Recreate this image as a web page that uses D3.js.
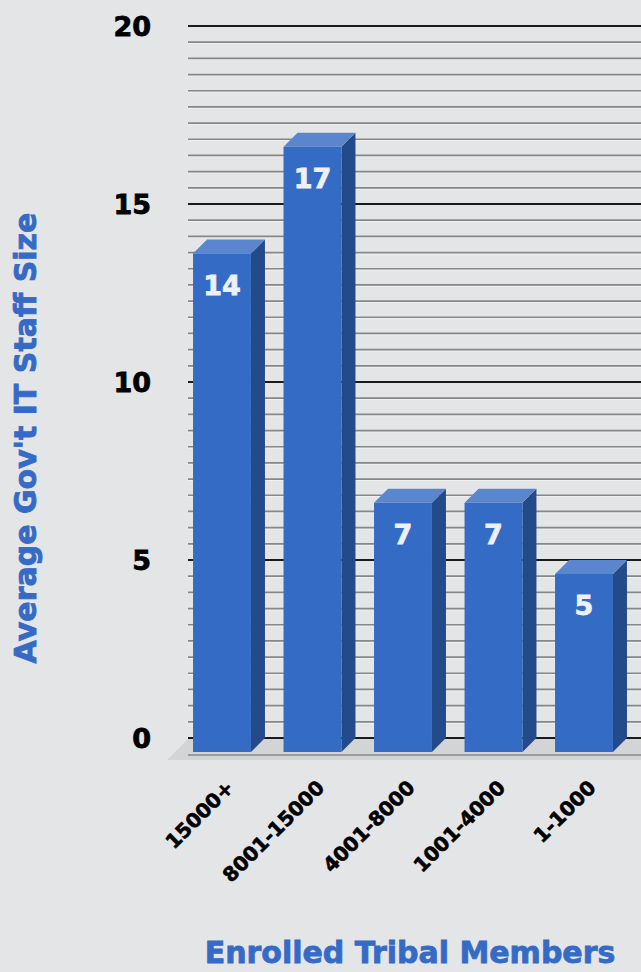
<!DOCTYPE html>
<html>
<head>
<meta charset="utf-8">
<script src="https://cdn.jsdelivr.net/npm/d3@7"></script>
<style>
  html, body { margin: 0; padding: 0; background: #e4e5e7; }
  svg { display: block; font-family: "DejaVu Sans", Verdana, sans-serif; }
</style>
</head>
<body>
<svg id="chart" width="641" height="972"></svg>
<script>
const categories = ["15000+", "8001-15000", "4001-8000", "1001-4000", "1-1000"];
const values = [14, 17, 7, 7, 5];
const yTicks = [0, 5, 10, 15, 20];
const minorPerMajor = 11;

const W = 641, H = 972;
const depthX = 14, depthY = 14;

const svg = d3.select("#chart");

const x = d3.scaleBand()
  .domain(categories)
  .range([176.75, 629.25])
  .paddingInner(0.36)
  .paddingOuter(0.18);

// y scale lives on the back wall
const y = d3.scaleLinear().domain([0, 20]).range([738, 26]);

const gridLayer = svg.append("g").attr("class", "grid");
const floorLayer = svg.append("g").attr("class", "floor");
const barLayer = svg.append("g").attr("class", "bars");
const textLayer = svg.append("g").attr("class", "labels");

// minor gridlines
const minorVals = [];
for (let i = 0; i < yTicks.length - 1; i++) {
  for (let k = 1; k < minorPerMajor; k++) {
    minorVals.push(yTicks[i] + (yTicks[i + 1] - yTicks[i]) * k / minorPerMajor);
  }
}

gridLayer.selectAll("line.minor-hi")
  .data(minorVals)
  .join("line")
  .attr("x1", 188).attr("x2", W)
  .attr("y1", (d) => y(d) + 1.4).attr("y2", (d) => y(d) + 1.4)
  .attr("stroke", "#f1f1f2")
  .attr("stroke-width", 1);

gridLayer.selectAll("line.minor")
  .data(minorVals)
  .join("line")
  .attr("x1", 188).attr("x2", W)
  .attr("y1", (d) => y(d)).attr("y2", (d) => y(d))
  .attr("stroke", "#878787")
  .attr("stroke-width", 1.7);

gridLayer.selectAll("line.major")
  .data(yTicks)
  .join("line")
  .attr("x1", 188).attr("x2", W)
  .attr("y1", (d) => y(d)).attr("y2", (d) => y(d))
  .attr("stroke", "#1a1a1a")
  .attr("stroke-width", 1.8);

// floor
const y0 = y(0);
floorLayer.append("polygon")
  .attr("points", [[188, y0 + 1], [W, y0 + 1], [W, y0 + 22], [167, y0 + 22]].join(" "))
  .attr("fill", "#d3d4d6");

floorLayer.append("line")
  .attr("x1", 188).attr("x2", W)
  .attr("y1", y0 + 17).attr("y2", y0 + 17)
  .attr("stroke", "#8a8a8a")
  .attr("stroke-width", 1.5);

// bars
const bars = barLayer.selectAll("g.bar")
  .data(categories.map((c, i) => ({ cat: c, v: values[i] })))
  .join("g")
  .attr("class", "bar");

bars.append("polygon")
  .attr("fill", "#234a89")
  .attr("points", (d) => {
    const x1 = x(d.cat) + x.bandwidth();
    const fy = y(d.v) + depthY;
    return [[x1, fy], [x1 + depthX, fy - depthY], [x1 + depthX, y0], [x1, y0 + depthY]].join(" ");
  });

bars.append("polygon")
  .attr("fill", "#5986cd")
  .attr("points", (d) => {
    const x0 = x(d.cat), x1 = x0 + x.bandwidth();
    const fy = y(d.v) + depthY;
    return [[x0, fy], [x0 + depthX, fy - depthY], [x1 + depthX, fy - depthY], [x1, fy]].join(" ");
  });

bars.append("rect")
  .attr("fill", "#336bc5")
  .attr("x", (d) => x(d.cat))
  .attr("y", (d) => y(d.v) + depthY)
  .attr("width", x.bandwidth())
  .attr("height", (d) => y0 - y(d.v));

bars.append("text")
  .attr("x", (d) => x(d.cat) + x.bandwidth() / 2)
  .attr("y", (d) => y(d.v) + depthY + 41)
  .attr("text-anchor", "middle")
  .attr("fill", "#eef0f5")
  .attr("stroke", "#eef0f5")
  .attr("stroke-width", 0.8)
  .attr("font-size", "27px")
  .attr("font-weight", "bold")
  .text((d) => d.v);

// y tick labels
textLayer.selectAll("text.ytick")
  .data(yTicks)
  .join("text")
  .attr("class", "ytick")
  .attr("x", 151)
  .attr("y", (d) => y(d))
  .attr("dy", "0.36em")
  .attr("text-anchor", "end")
  .attr("fill", "#000")
  .attr("stroke", "#000")
  .attr("stroke-width", 0.8)
  .attr("font-size", "27px")
  .attr("font-weight", "bold")
  .text((d) => d);

// x tick labels
textLayer.selectAll("text.xtick")
  .data(categories)
  .join("text")
  .attr("class", "xtick")
  .attr("transform", (d) => `translate(${x(d) + x.bandwidth() / 2 + 13}, 789) rotate(-45)`)
  .attr("text-anchor", "end")
  .attr("fill", "#000")
  .attr("stroke", "#000")
  .attr("stroke-width", 0.6)
  .attr("font-size", "20px")
  .attr("font-weight", "bold")
  .text((d) => d);

// axis titles
textLayer.append("text")
  .attr("transform", "translate(36, 438) rotate(-90)")
  .attr("text-anchor", "middle")
  .attr("fill", "#356bc6")
  .attr("stroke", "#356bc6")
  .attr("stroke-width", 0.8)
  .attr("font-size", "30px")
  .attr("font-weight", "bold")
  .text("Average Gov't IT Staff Size");

textLayer.append("text")
  .attr("x", 410)
  .attr("y", 963)
  .attr("text-anchor", "middle")
  .attr("fill", "#356bc6")
  .attr("stroke", "#356bc6")
  .attr("stroke-width", 0.8)
  .attr("font-size", "30px")
  .attr("font-weight", "bold")
  .text("Enrolled Tribal Members");
</script>
</body>
</html>
